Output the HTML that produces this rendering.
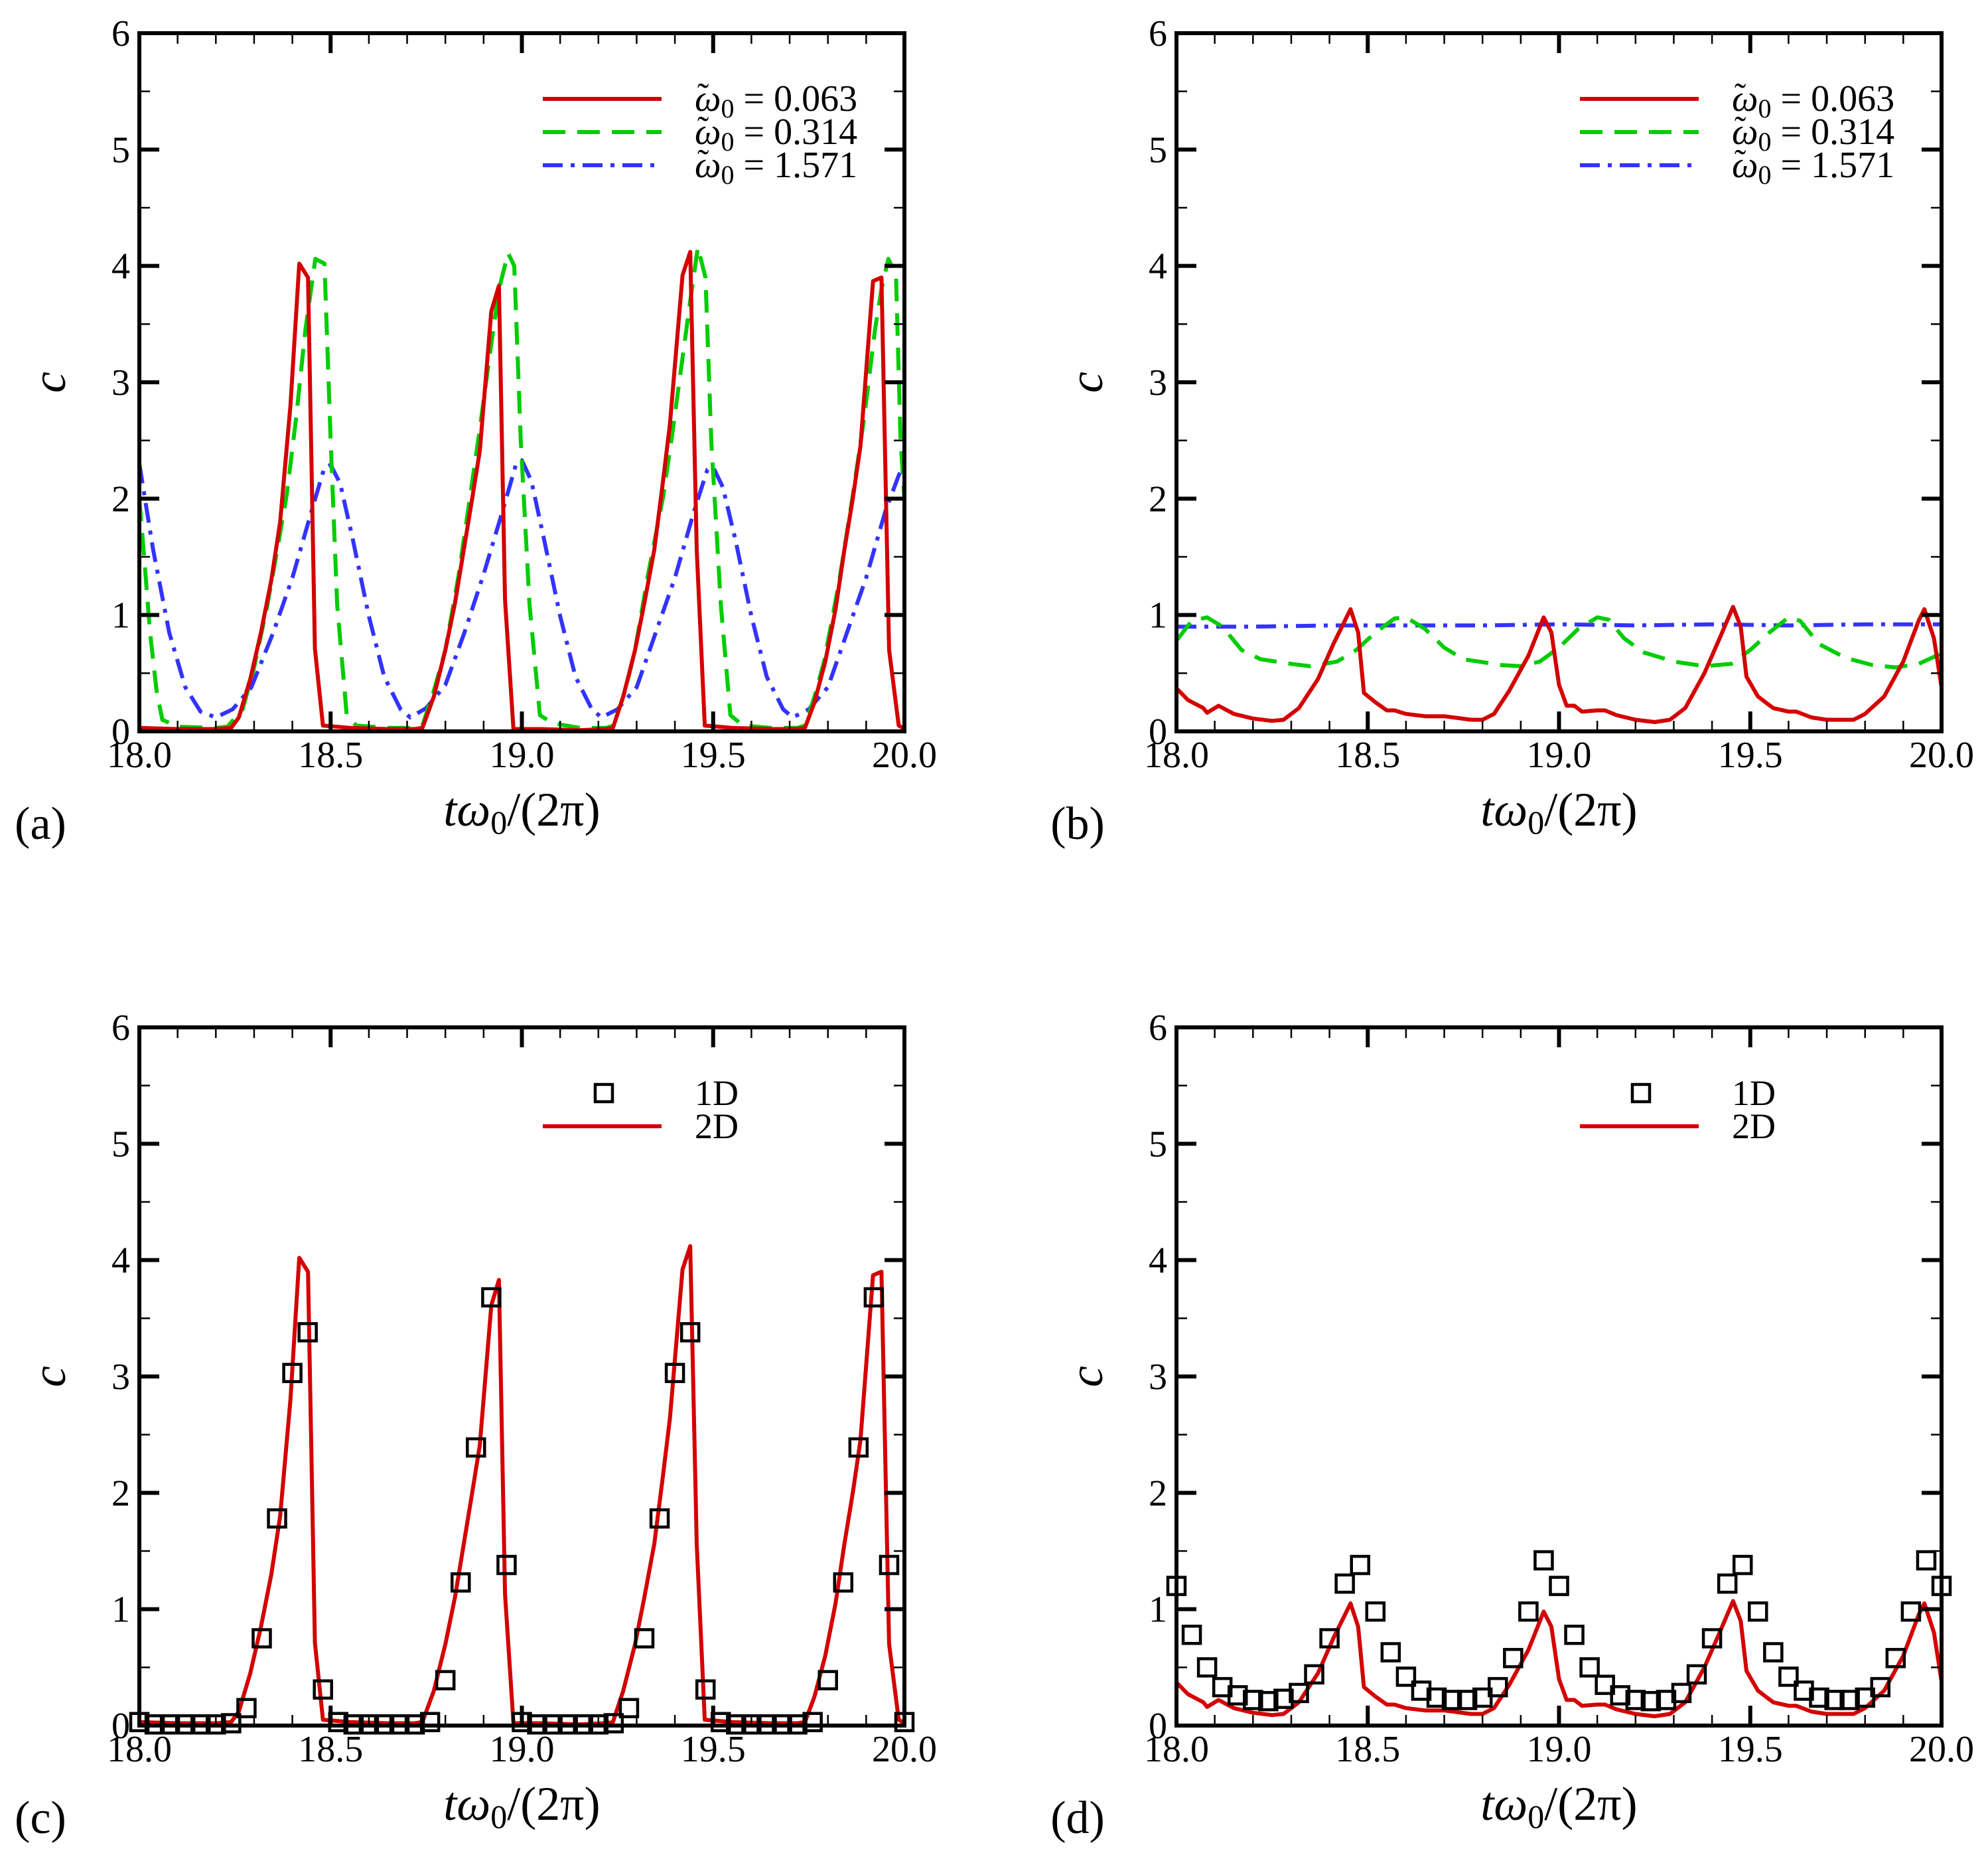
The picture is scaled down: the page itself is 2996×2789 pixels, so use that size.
<!DOCTYPE html>
<html><head><meta charset="utf-8"><style>
html,body{margin:0;padding:0;background:#fff;}
svg{display:block;}
</style></head><body>
<svg id="fig" width="2996" height="2789" viewBox="0 0 2996 2789" xmlns="http://www.w3.org/2000/svg" font-family="'Liberation Serif', serif" fill="#000">
<rect x="0" y="0" width="2996" height="2789" fill="#fff"/>
</svg>
<script>
// ---------- data ----------
const xTicks = [18.0, 18.5, 19.0, 19.5, 20.0];
const xTickLabels = ["18.0", "18.5", "19.0", "19.5", "20.0"];
const yTicks = [0, 1, 2, 3, 4, 5, 6];
const yTickLabels = ["0", "1", "2", "3", "4", "5", "6"];

const redAX = [18.0,18.1,18.2,18.24,18.26,18.29,18.318,18.345,18.368,18.395,18.418,18.441,18.459,18.48,18.55,18.65,18.72,18.74,18.77,18.8,18.825,18.848,18.87,18.89,18.92,18.94,18.956,18.978,19.05,19.15,19.22,19.238,19.265,19.296,19.32,19.346,19.367,19.387,19.42,19.44,19.457,19.478,19.55,19.65,19.72,19.74,19.765,19.793,19.82,19.843,19.865,19.885,19.918,19.94,19.96,19.985,20.0];
const redAY = [0.03,0.02,0.02,0.03,0.12,0.45,0.85,1.3,1.8,2.8,4.02,3.9,0.71,0.05,0.03,0.02,0.02,0.03,0.3,0.7,1.1,1.56,2.0,2.41,3.61,3.83,1.13,0.02,0.02,0.01,0.02,0.03,0.3,0.7,1.1,1.56,2.1,2.64,3.92,4.12,1.56,0.05,0.03,0.02,0.02,0.03,0.25,0.6,1.05,1.56,2.0,2.45,3.87,3.9,0.7,0.05,0.02];

const greenAX = [18.0,18.015,18.028,18.045,18.06,18.1,18.2,18.23,18.27,18.3,18.335,18.36,18.385,18.41,18.434,18.46,18.484,18.5,18.517,18.542,18.567,18.65,18.72,18.74,18.77,18.8,18.835,18.865,18.89,18.915,18.94,18.964,18.98,18.997,19.02,19.047,19.08,19.15,19.22,19.24,19.27,19.296,19.33,19.37,19.395,19.42,19.44,19.46,19.48,19.495,19.52,19.545,19.578,19.65,19.72,19.74,19.765,19.79,19.83,19.865,19.895,19.923,19.94,19.958,19.978,19.99,20.0];
const greenAY = [2.0,1.4,0.85,0.35,0.1,0.04,0.03,0.04,0.19,0.55,1.09,1.55,2.03,2.7,3.45,4.06,4.02,2.5,1.09,0.14,0.05,0.03,0.03,0.05,0.35,0.7,1.35,2.03,2.6,3.21,3.8,4.11,4.0,2.5,1.09,0.14,0.07,0.03,0.03,0.05,0.35,0.7,1.35,2.03,2.6,3.21,3.7,4.16,3.9,2.5,1.09,0.14,0.05,0.03,0.03,0.05,0.3,0.6,1.3,2.03,2.7,3.45,3.8,4.06,3.92,2.5,2.0];

const blueAX = [18.0,18.036,18.078,18.12,18.16,18.2,18.244,18.293,18.35,18.4,18.45,18.484,18.5,18.525,18.558,18.6,18.64,18.683,18.708,18.75,18.8,18.85,18.9,18.95,18.985,19.0,19.025,19.058,19.1,19.14,19.183,19.208,19.25,19.3,19.35,19.4,19.45,19.485,19.5,19.525,19.558,19.6,19.64,19.683,19.708,19.75,19.8,19.85,19.9,19.95,19.985,20.0];
const blueAY = [2.3,1.56,0.85,0.38,0.17,0.12,0.19,0.38,0.85,1.32,1.89,2.27,2.29,2.13,1.65,0.99,0.47,0.19,0.12,0.2,0.4,0.85,1.35,1.9,2.3,2.33,2.15,1.65,0.99,0.47,0.19,0.12,0.19,0.38,0.85,1.32,1.89,2.25,2.27,2.1,1.65,0.99,0.47,0.19,0.12,0.19,0.38,0.85,1.32,1.89,2.2,2.3];

const redBX = [18.0,18.03,18.07,18.08,18.11,18.15,18.2,18.25,18.28,18.32,18.37,18.41,18.44,18.455,18.475,18.49,18.52,18.55,18.57,18.6,18.65,18.7,18.77,18.8,18.83,18.87,18.92,18.96,18.98,19.0,19.02,19.04,19.06,19.1,19.12,19.15,19.2,19.25,19.29,19.33,19.38,19.42,19.455,19.475,19.49,19.52,19.54,19.56,19.6,19.62,19.66,19.7,19.77,19.8,19.85,19.9,19.94,19.955,19.98,20.0];
const redBY = [0.37,0.27,0.2,0.16,0.22,0.15,0.11,0.09,0.1,0.2,0.45,0.75,0.95,1.05,0.85,0.33,0.25,0.18,0.18,0.15,0.13,0.13,0.1,0.1,0.15,0.35,0.65,0.98,0.85,0.4,0.22,0.22,0.17,0.18,0.18,0.14,0.1,0.08,0.1,0.2,0.5,0.8,1.07,0.9,0.47,0.3,0.25,0.2,0.17,0.17,0.12,0.1,0.1,0.15,0.3,0.6,0.95,1.05,0.8,0.38];

const greenBX = [18.0,18.04,18.08,18.12,18.17,18.22,18.3,18.35,18.42,18.47,18.52,18.57,18.6,18.65,18.7,18.75,18.85,18.9,18.95,19.0,19.05,19.1,19.13,19.17,19.22,19.3,19.38,19.45,19.5,19.55,19.6,19.63,19.68,19.75,19.82,19.88,19.94,20.0];
const greenBY = [0.78,0.95,0.98,0.9,0.7,0.62,0.58,0.56,0.6,0.7,0.85,0.97,0.98,0.88,0.72,0.62,0.57,0.56,0.6,0.72,0.88,0.98,0.96,0.8,0.68,0.6,0.56,0.58,0.7,0.85,0.98,0.95,0.75,0.63,0.57,0.55,0.58,0.67];

const blueBX = [18.0,18.2,18.4,18.6,18.8,19.0,19.2,19.4,19.6,19.8,20.0];
const blueBY = [0.9,0.9,0.91,0.91,0.91,0.92,0.91,0.92,0.91,0.92,0.92];

const sqX = [18.00,18.04,18.08,18.12,18.16,18.20,18.24,18.28,18.32,18.36,18.40,18.44,18.48,18.52,18.56,18.60,18.64,18.68,18.72,18.76,18.80,18.84,18.88,18.92,18.96,19.00,19.04,19.08,19.12,19.16,19.20,19.24,19.28,19.32,19.36,19.40,19.44,19.48,19.52,19.56,19.60,19.64,19.68,19.72,19.76,19.80,19.84,19.88,19.92,19.96,20.00];
const sqCY = [0.03,0.01,0.01,0.01,0.01,0.01,0.02,0.15,0.75,1.78,3.03,3.38,0.31,0.03,0.01,0.01,0.01,0.01,0.01,0.03,0.39,1.23,2.39,3.68,1.38,0.03,0.01,0.01,0.01,0.01,0.01,0.02,0.15,0.75,1.78,3.03,3.38,0.31,0.03,0.01,0.01,0.01,0.01,0.01,0.03,0.39,1.23,2.39,3.68,1.38,0.03];
const sqDY = [1.2,0.78,0.5,0.33,0.26,0.22,0.21,0.23,0.28,0.44,0.75,1.22,1.38,0.98,0.63,0.42,0.3,0.24,0.22,0.22,0.24,0.33,0.58,0.98,1.42,1.2,0.78,0.5,0.35,0.26,0.22,0.21,0.22,0.28,0.44,0.75,1.22,1.38,0.98,0.63,0.42,0.3,0.24,0.22,0.22,0.24,0.33,0.58,0.98,1.42,1.2];

// ---------- drawing ----------
const NS = "http://www.w3.org/2000/svg";
const svg = document.getElementById("fig");
const W = 1153, H = 1052, XMIN = 18, XMAX = 20, YMIN = 0, YMAX = 6;
const RED = "#d40000", GREEN = "#00cc00", BLUE = "#3333ff";
const SERIF = "'Liberation Serif', serif";

function mk(tag, parent) { const e = document.createElementNS(NS, tag); parent.appendChild(e); return e; }
function txt(parent, x, y, size, anchor) {
  const t = mk("text", parent);
  t.setAttribute("x", x); t.setAttribute("y", y); t.setAttribute("font-size", size);
  t.setAttribute("font-family", SERIF); t.setAttribute("fill", "#000");
  if (anchor) t.setAttribute("text-anchor", anchor);
  return t;
}

function panel(id, left, top, letter) {
  const g = mk("g", svg);
  
  
  const sx = v => left + (v - XMIN) / (XMAX - XMIN) * W;
  const sy = v => top + H - (v - YMIN) / (YMAX - YMIN) * H;
  const cp = mk("clipPath", g); cp.setAttribute("id", "clip-" + id);
  const cr = mk("rect", cp); cr.setAttribute("x", left); cr.setAttribute("y", top); cr.setAttribute("width", W); cr.setAttribute("height", H);
  const plot = mk("g", g); plot.setAttribute("clip-path", "url(#clip-" + id + ")");
  
  
  const tg = mk("g", g);
  
  
  function tick(x1, y1, x2, y2, w) { const l = mk("line", tg); l.setAttribute("x1", x1); l.setAttribute("y1", y1); l.setAttribute("x2", x2); l.setAttribute("y2", y2); l.setAttribute("stroke", "#000"); l.setAttribute("stroke-width", w); }
  for (let k = 1; k < 20; k++) {
    const x = sx(XMIN + k * 0.1);
    const major = k % 5 === 0;
    const len = major ? 30 : 16, w = major ? 6 : 2.5;
    tick(x, top + H, x, top + H - len, w); tick(x, top, x, top + len, w);
  }
  for (let k = 1; k < 12; k++) {
    const y = sy(k * 0.5);
    const major = k % 2 === 0;
    const len = major ? 30 : 16, w = major ? 6 : 2.5;
    tick(left, y, left + len, y, w); tick(left + W, y, left + W - len, y, w);
  }
  xTicks.forEach((v, i) => {
    const t = txt(g, sx(v), top + H + 54, 56, "middle"); t.textContent = xTickLabels[i];
    
    
  });
  yTicks.forEach((v, i) => {
    const t = txt(g, left - 14, sy(v) + 19, 56, "end"); t.textContent = yTickLabels[i];
    
    
  });
  const xt = txt(g, left + W / 2, top + H + 142, 72, "middle");
  xt.innerHTML = '<tspan font-style="italic">tω</tspan><tspan font-size="50" dy="12">0</tspan><tspan dy="-12">/(2π)</tspan>';
  
  
  const yt = txt(g, 0, 0, 72, "middle");
  yt.setAttribute("transform", "translate(" + (left - 112) + "," + (top + H / 2) + ") rotate(-90)");
  yt.setAttribute("font-style", "italic"); yt.textContent = "c";
  
  
  const pl = txt(g, left - 149, top + H + 162, 70, "middle"); pl.textContent = "(" + letter + ")";
  
  
  const fr = mk("rect", g); fr.setAttribute("x", left); fr.setAttribute("y", top); fr.setAttribute("width", W); fr.setAttribute("height", H);
  fr.setAttribute("fill", "none"); fr.setAttribute("stroke", "#000"); fr.setAttribute("stroke-width", "6");
  
  
  return { plot, g, sx, sy, left, top };
}

function line(P, xs, ys, color, dash, name) {
  const p = mk("polyline", P.plot);
  p.setAttribute("points", xs.map((x, i) => P.sx(x).toFixed(1) + "," + P.sy(ys[i]).toFixed(1)).join(" "));
  p.setAttribute("fill", "none"); p.setAttribute("stroke", color); p.setAttribute("stroke-width", "6");
  p.setAttribute("stroke-linejoin", "round");
  if (dash) p.setAttribute("stroke-dasharray", dash);
  
  
}
function squares(P, xs, ys) {
  const gg = mk("g", svg);
  
  
  xs.forEach((x, i) => {
    const r = mk("rect", gg);
    r.setAttribute("x", P.sx(x) - 13); r.setAttribute("y", P.sy(ys[i]) - 13); r.setAttribute("width", 26); r.setAttribute("height", 26);
    r.setAttribute("fill", "none"); r.setAttribute("stroke", "#000"); r.setAttribute("stroke-width", "4.5");
    
    
  });
}
function legendLine(P, row, color, dash, value) {
  const y = P.top + 99 + row * 50;
  const l = mk("line", P.g); l.setAttribute("x1", P.left + 608); l.setAttribute("x2", P.left + 787);
  l.setAttribute("y1", y); l.setAttribute("y2", y); l.setAttribute("stroke", color); l.setAttribute("stroke-width", "6");
  if (dash) l.setAttribute("stroke-dasharray", dash);
  
  
  const x0 = P.left + 837;
  if (value === "2D") {
    const t = txt(P.g, x0, y + 18, 54); t.textContent = "2D";
    
    
    return;
  }
  const t = txt(P.g, x0, y + 18, 56);
  t.innerHTML = '<tspan font-style="italic">ω</tspan><tspan font-size="40" dy="10">0</tspan><tspan dy="-10"> = ' + value + '</tspan>';
  
  
  const tl = txt(P.g, x0 + 4, y + 12, 52); tl.textContent = "˜";
  
  
}
function legendSquare(P, row, label) {
  const y = P.top + 99 + row * 50;
  const r = mk("rect", P.g); r.setAttribute("x", P.left + 700 - 13); r.setAttribute("y", y - 13);
  r.setAttribute("width", 26); r.setAttribute("height", 26); r.setAttribute("fill", "none"); r.setAttribute("stroke", "#000"); r.setAttribute("stroke-width", "4.5");
  
  
  const t = txt(P.g, P.left + 837, y + 18, 54); t.textContent = label;
  
  
}
const DASH = "34 18", DASHDOT = "30 12 6 12";

const A = panel("a", 210, 50, "a");
line(A, blueAX, blueAY, BLUE, DASHDOT, "series-omega-1571");
line(A, greenAX, greenAY, GREEN, DASH, "series-omega-0314");
line(A, redAX, redAY, RED, null, "series-omega-0063");
legendLine(A, 0, RED, null, "0.063");
legendLine(A, 1, GREEN, DASH, "0.314");
legendLine(A, 2, BLUE, DASHDOT, "1.571");

const B = panel("b", 1773, 50, "b");
line(B, blueBX, blueBY, BLUE, DASHDOT, "series-omega-1571");
line(B, greenBX, greenBY, GREEN, DASH, "series-omega-0314");
line(B, redBX, redBY, RED, null, "series-omega-0063");
legendLine(B, 0, RED, null, "0.063");
legendLine(B, 1, GREEN, DASH, "0.314");
legendLine(B, 2, BLUE, DASHDOT, "1.571");

const C = panel("c", 210, 1548, "c");
line(C, redAX, redAY, RED, null, "series-2d");
squares(C, sqX, sqCY);
legendSquare(C, 0, "1D");
legendLine(C, 1, RED, null, "2D");

const D = panel("d", 1773, 1548, "d");
line(D, redBX, redBY, RED, null, "series-2d");
squares(D, sqX, sqDY);
legendSquare(D, 0, "1D");
legendLine(D, 1, RED, null, "2D");
</script>
</body></html>
